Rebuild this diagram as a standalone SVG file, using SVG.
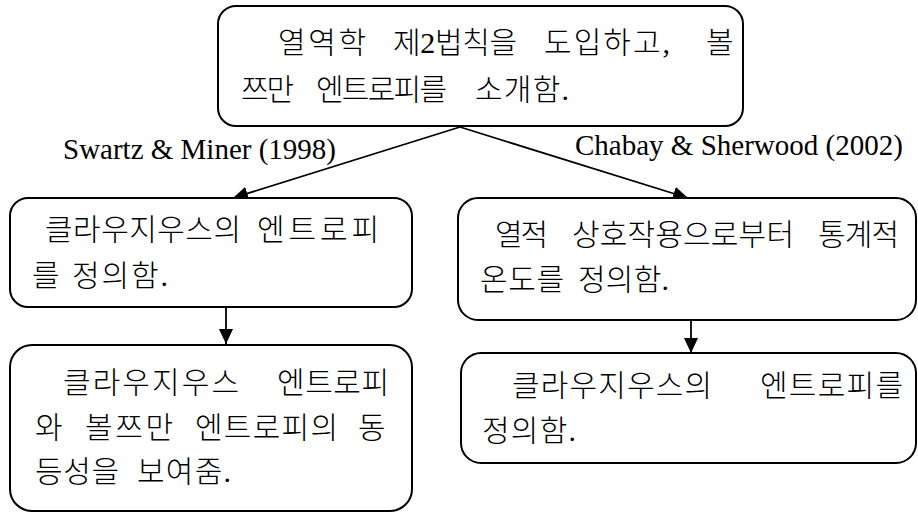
<svg xmlns="http://www.w3.org/2000/svg" width="918" height="514" viewBox="0 0 918 514">
<style>
.box{fill:#fff;stroke:#000;stroke-width:2}
.kt{font-family:"Liberation Serif","Noto Sans CJK KR",serif;font-size:30px;font-weight:300;fill:#000}
.lbl{font-family:"Liberation Serif","Times New Roman",serif;font-size:29px;fill:#000}
.conn{stroke:#000;stroke-width:1.8;fill:none}
</style>
<defs>
<marker id="ah" markerUnits="userSpaceOnUse" markerWidth="16" markerHeight="14" refX="15" refY="7" orient="auto">
<path d="M0,0 L15,7 L0,14 z" fill="#000"/>
</marker>
</defs>
<rect width="918" height="514" fill="#fff"/>
<g id="connectors">
<line class="conn" x1="460" y1="127" x2="233" y2="198" marker-end="url(#ah)"/>
<line class="conn" x1="460" y1="127" x2="688" y2="198" marker-end="url(#ah)"/>
<line class="conn" x1="226" y1="307" x2="226" y2="344" marker-end="url(#ah)"/>
<line class="conn" x1="691" y1="320" x2="691" y2="353" marker-end="url(#ah)"/>
</g>
<g id="labels">
<text class="lbl" x="63" y="159">Swartz &amp; Miner (1998)</text>
<text class="lbl" x="575" y="155">Chabay &amp; Sherwood (2002)</text>
</g>
<g id="top">
<rect class="box" x="218" y="6" width="525" height="120" rx="18"/>
<text class="kt" y="53"><tspan x="278" textLength="88">열역학</tspan><tspan x="393" textLength="124">제2법칙을</tspan><tspan x="544" textLength="126">도입하고,</tspan><tspan x="706">볼</tspan></text>
<text class="kt" y="100"><tspan x="241" textLength="53">쯔만</tspan><tspan x="316" textLength="131">엔트로피를</tspan><tspan x="475" textLength="94">소개함.</tspan></text>
</g>
<g id="left1">
<rect class="box" x="10" y="198" width="402" height="109" rx="18"/>
<text class="kt" y="240"><tspan x="45" textLength="196">클라우지우스의</tspan><tspan x="257" textLength="122">엔트로피</tspan></text>
<text class="kt" y="286"><tspan x="32">를</tspan><tspan x="72" textLength="96">정의함.</tspan></text>
</g>
<g id="left2">
<rect class="box" x="10" y="345" width="402" height="166" rx="22"/>
<text class="kt" y="393"><tspan x="63" textLength="176">클라우지우스</tspan><tspan x="277" textLength="112">엔트로피</tspan></text>
<text class="kt" y="438"><tspan x="35">와</tspan><tspan x="85" textLength="88">볼쯔만</tspan><tspan x="195" textLength="143">엔트로피의</tspan><tspan x="358">동</tspan></text>
<text class="kt" y="482"><tspan x="35" textLength="84">등성을</tspan><tspan x="137" textLength="94">보여줌.</tspan></text>
</g>
<g id="right1">
<rect class="box" x="458" y="198" width="458" height="122" rx="20"/>
<text class="kt" y="245"><tspan x="495" textLength="53">열적</tspan><tspan x="572" textLength="222">상호작용으로부터</tspan><tspan x="818" textLength="81">통계적</tspan></text>
<text class="kt" y="290"><tspan x="480" textLength="84">온도를</tspan><tspan x="578" textLength="91">정의함.</tspan></text>
</g>
<g id="right2">
<rect class="box" x="461" y="353" width="455" height="110" rx="20"/>
<text class="kt" y="396"><tspan x="512" textLength="200">클라우지우스의</tspan><tspan x="760" textLength="143">엔트로피를</tspan></text>
<text class="kt" y="441"><tspan x="482" textLength="94">정의함.</tspan></text>
</g>
</svg>
